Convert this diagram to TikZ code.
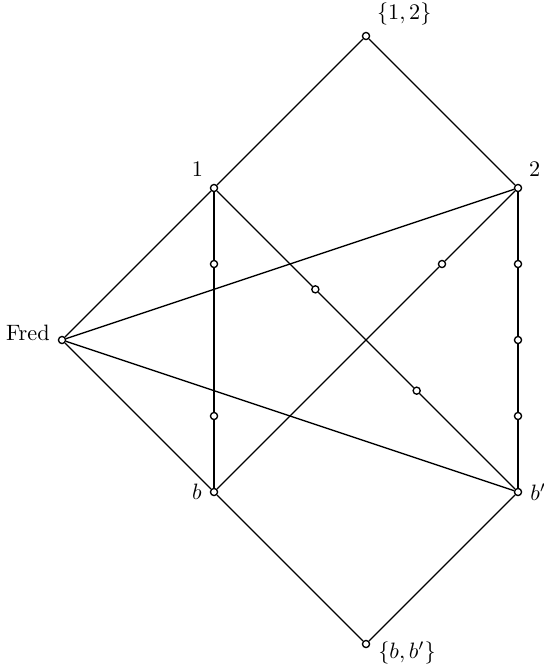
\documentclass[tikz,border=0pt]{standalone}
\begin{document}
\begin{tikzpicture}[x=2.4cm, y=2.4cm, line width=0.6pt,
  pt/.style={circle, draw, fill=white, inner sep=0pt, minimum size=3.2pt}]
  \useasboundingbox (-0.408,-2.171) rectangle (3.171,2.237);
  \node[pt, label=above right:{$\{1,2\}$}] (top) at (2,2) {};
  \node[pt, label=above left:1] (one) at (1,1) {};
  \node[pt, label=above right:2] (two) at (3,1) {};
  \node[pt, label={[anchor=base east]left:Fred}] (fred) at (0,0) {};
  \node[pt, label=left:$b$] (b) at (1,-1) {};
  \node[pt, label=right:$b'$] (bp) at (3,-1) {};
  \node[pt, label={[anchor=west, yshift=-4pt]right:$\{b,b'\}$}] (bot) at (2,-2) {};
  % inner points
  \node[pt] (a1) at (1,0.5) {};
  \node[pt] (a2) at (1,-0.5) {};
  \node[pt] (c1) at (3,0.5) {};
  \node[pt] (c2) at (3,0) {};
  \node[pt] (c3) at (3,-0.5) {};
  \node[pt] (d1) at (5/3,1/3) {};
  \node[pt] (d2) at (7/3,-1/3) {};
  \node[pt] (e1) at (2.5,0.5) {};
  \foreach \u/\v in {top/one, top/two, one/fred, fred/b, b/bot, bp/bot,
    fred/two, fred/bp, one/a1, a1/a2, a2/b, two/c1, c1/c2, c2/c3, c3/bp,
    one/d1, d1/d2, d2/bp, b/e1, e1/two}
    \draw (\u) -- (\v);
\end{tikzpicture}
\end{document}
